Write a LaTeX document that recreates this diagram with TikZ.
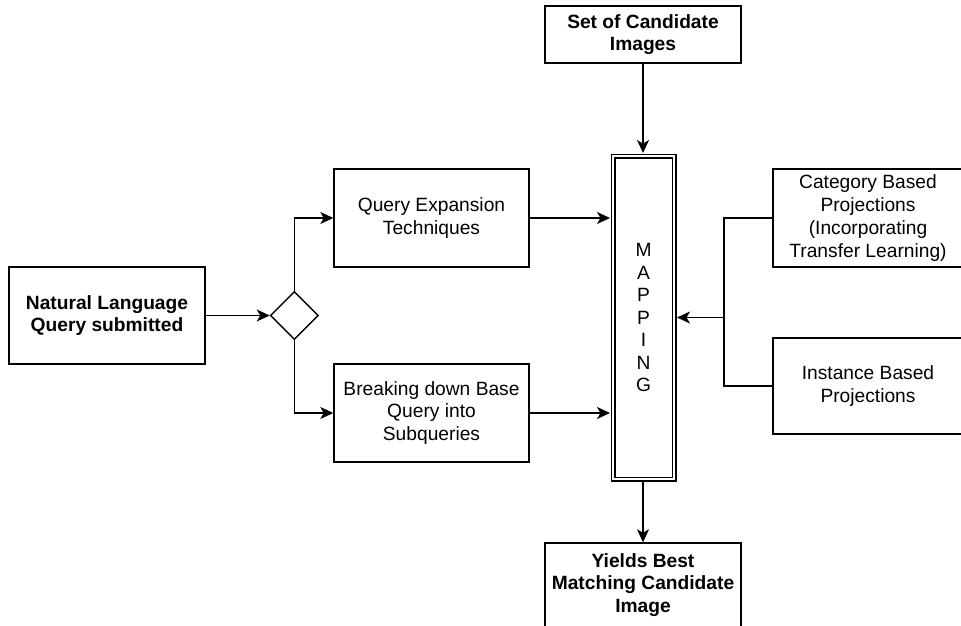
\documentclass[tikz,border=0pt]{standalone}
\usepackage{fontspec}
\setmainfont{Liberation Sans}
\usetikzlibrary{positioning,arrows.meta,shapes.geometric}

\begin{document}
\begin{tikzpicture}[x=1pt, y=1pt, font=\fontsize{19.2}{22.8}\selectfont,
  box/.style={draw, line width=1.4pt, align=center, inner sep=2pt, minimum width=195, minimum height=98},
  bbox/.style={box, font=\fontsize{19.2}{22.8}\selectfont\bfseries},
  arr/.style={-{Stealth[length=13pt, width=12pt, inset=3.5pt]}, line width=1.4pt},
  link/.style={line width=1.4pt}]
\useasboundingbox (0,0) rectangle (961,-626);
\clip (0,0) rectangle (961,-626);
% query side
\node[bbox, minimum width=196, minimum height=97] (nlq) at (107,-315.5) {Natural Language\\Query submitted};
\node[diamond, draw, line width=1.4pt, inner sep=0pt, minimum width=48, minimum height=48, right=64 of nlq] (split) {};
\node[box] (qexp) at (431.5,-218) {Query Expansion\\Techniques};
\node[box] (brk) at (431.5,-413) {Breaking down Base\\Query into\\Subqueries};
% mapping column
\node[draw, double, double distance=2.6pt, line width=1.2pt, outer sep=3pt,
  minimum width=61, minimum height=323, align=center, font=\fontsize{19.2}{22.5}\selectfont] (map) at (643.5,-317.5) {M\\A\\P\\P\\I\\N\\G};
\node[bbox, minimum width=196, minimum height=57] (cand) at (643,-34.5) {Set of Candidate\\Images};
\node[bbox, minimum width=196, minimum height=84] (best) at (643,-585) {Yields Best\\Matching Candidate\\Image};
% projections
\node[box, minimum width=190] (cat) at (868,-218) {Category Based\\Projections\\(Incorporating\\Transfer Learning)};
\node[box, minimum width=190, minimum height=96] (inst) at (868,-386) {Instance Based\\Projections};
\coordinate[right=47 of map.east] (jn);
% connectors
\draw[arr] (nlq) -- (split);
\draw[arr] (split.north) |- (qexp.west);
\draw[arr] (split.south) |- (brk.west);
\draw[arr] (qexp) -- (qexp -| map.west);
\draw[arr] (brk) -- (brk -| map.west);
\draw[arr] (cand.south) -- (cand.south |- map.north);
\draw[arr] (map.south -| best.north) -- (best.north);
\draw[link] (cat.west) -| (jn);
\draw[link] (inst.west) -| (jn);
\draw[arr] (jn) -- (map.east);
\end{tikzpicture}
\end{document}
